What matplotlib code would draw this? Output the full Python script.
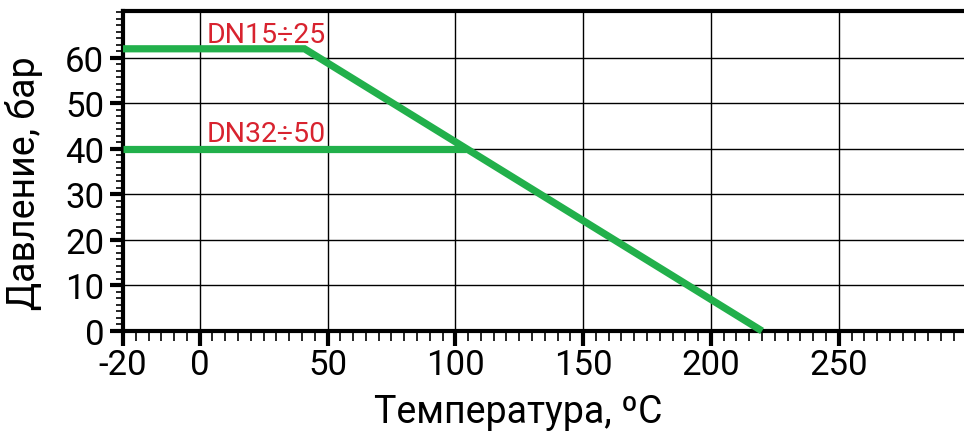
import numpy as np
import matplotlib
matplotlib.use('Agg')
import matplotlib.pyplot as plt
from matplotlib.ticker import FixedLocator, AutoMinorLocator

plt.rcParams['font.family'] = ['Roboto', 'DejaVu Sans']

# данные (температура, ºC / давление, бар)
temp_dn15 = [-20, 41, 220]
pres_dn15 = [62, 62, 0]
temp_dn32 = [-20, 104]
pres_dn32 = [40, 40]
x_ticks = [-20, 0, 50, 100, 150, 200, 250]
y_ticks = [0, 10, 20, 30, 40, 50, 60]

GREEN = '#22b04b'
RED = '#d8232f'


# участок -20..0 на исходном графике растянут
def fwd(x):
    x = np.asarray(x, dtype=float)
    return np.where(x < 0, 1.5 * x, x)


def inv(y):
    y = np.asarray(y, dtype=float)
    return np.where(y < 0, y / 1.5, y)


fig = plt.figure(figsize=(9.64, 4.35), dpi=100)
ax = fig.add_axes([0.1276, 0.2368, 0.8724, 0.7356])
ax.set_xscale('function', functions=(fwd, inv))
ax.set_xlim(-20, 299)
ax.set_ylim(0, 70.3)

ax.plot(temp_dn15, pres_dn15, color=GREEN, lw=5.2, solid_capstyle='butt',
        solid_joinstyle='miter', zorder=3, clip_on=False)
ax.plot(temp_dn32, pres_dn32, color=GREEN, lw=5.2, solid_capstyle='butt', zorder=3)

ax.text(2.7, 63.4, 'DN15÷25', color=RED, fontsize=20.5, va='baseline', ha='left')
ax.text(2.7, 41.8, 'DN32÷50', color=RED, fontsize=20.5, va='baseline', ha='left')

# оси и сетка
ax.xaxis.set_major_locator(FixedLocator(x_ticks))
minor_x = list(np.linspace(-20, 0, 7)[1:-1]) + [v for v in range(5, 300, 5) if v % 50]
ax.xaxis.set_minor_locator(FixedLocator(minor_x))
ax.set_xticklabels([str(v) for v in x_ticks])
ax.yaxis.set_major_locator(FixedLocator(y_ticks))
ax.yaxis.set_minor_locator(AutoMinorLocator(7))

ax.grid(True, which='major', color='black', lw=1.0, zorder=1)
ax.set_axisbelow(True)

for s in ['left', 'bottom', 'top']:
    ax.spines[s].set_linewidth(3.0)
    ax.spines[s].set_color('black')
ax.spines['right'].set_visible(False)

ax.tick_params(which='major', direction='out', length=9.5, width=3.0,
               labelsize=25, pad=4, top=False, right=False)
ax.tick_params(which='minor', direction='out', length=5, width=1.2,
               top=False, right=False)
ax.tick_params(axis='x', which='major', length=10.5, pad=2)
ax.tick_params(axis='x', which='minor', length=7)

ax.set_xlabel('Температура, ºC', fontsize=27)
ax.xaxis.set_label_coords(0.47, -0.195)
ax.set_ylabel('Давление, бар', fontsize=27)
ax.yaxis.set_label_coords(-0.095, 0.466)

fig.savefig('out.png', dpi=100, facecolor='white')
plt.close(fig)
